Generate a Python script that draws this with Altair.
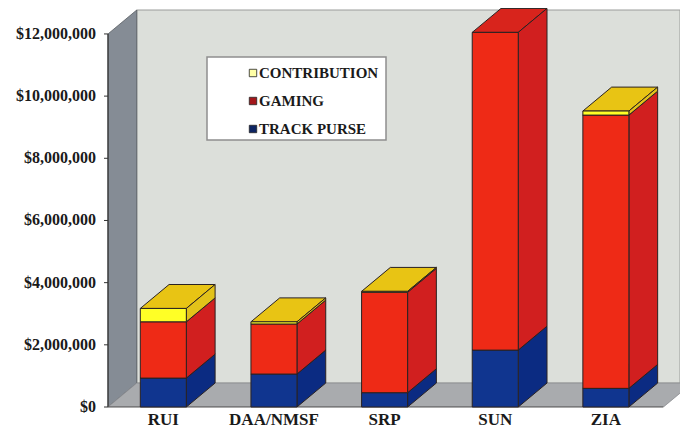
import json
import altair as alt
import pandas as pd

# ---------------- data ----------------
categories = ["RUI", "DAA/NMSF", "SRP", "SUN", "ZIA"]
series = ["TRACK PURSE", "GAMING", "CONTRIBUTION"]          # bottom -> top
track_purse = [930000, 1060000, 460000, 1830000, 600000]
gaming = [1810000, 1610000, 3230000, 10220000, 8790000]
contribution = [430000, 70000, 30000, 0, 130000]
y_ticks = [0, 2000000, 4000000, 6000000, 8000000, 10000000, 12000000]

front_colors = {"TRACK PURSE": "#10358f", "GAMING": "#ee2a16", "CONTRIBUTION": "#ffff26"}
side_colors = {"TRACK PURSE": "#0b2b82", "GAMING": "#d11f1f", "CONTRIBUTION": "#e2c21a"}
top_colors = {"TRACK PURSE": "#10358f", "GAMING": "#d8241c", "CONTRIBUTION": "#e8c414"}
legend_colors = {"CONTRIBUTION": "#ffffa6", "GAMING": "#a3171b", "TRACK PURSE": "#0d2462"}
legend_order = ["CONTRIBUTION", "GAMING", "TRACK PURSE"]

# ---------------- geometry (style) ----------------
HALF_W = 0.208          # half bar width in category units
DX = 0.26               # depth in category units
DY = 770000             # depth in value units
Y_TOP = 12000000
X_MAX = 5.17
FLOOR_END = 5.02
STROKE = "#2a2222"
SERIF = "Liberation Serif, Times New Roman, serif"

values = {"TRACK PURSE": track_purse, "GAMING": gaming, "CONTRIBUTION": contribution}

front_rows, side_rows, top_rows = [], [], []
for i, cat in enumerate(categories):
    cx = i + 0.5
    base = 0
    for s in series:
        v = values[s][i]
        y0, y1 = base, base + v
        base = y1
        if v <= 0:
            continue
        sid = f"{cat}-{s}"
        front_rows.append(dict(cat=cat, s=s, x=cx - HALF_W, x2=cx + HALF_W, y=y0, y2=y1,
                               c=front_colors[s]))
        side_rows += [
            dict(id=sid, x=cx + HALF_W, y=y0, y2=y1, c=side_colors[s]),
            dict(id=sid, x=cx + HALF_W + DX, y=y0 + DY, y2=y1 + DY, c=side_colors[s]),
        ]
        top_rows += [
            dict(id=sid, y=y1, x=cx - HALF_W, x2=cx + HALF_W, c=top_colors[s], k=len(top_rows)),
            dict(id=sid, y=y1 + DY, x=cx - HALF_W + DX, x2=cx + HALF_W + DX, c=top_colors[s], k=len(top_rows)),
        ]

front_df = pd.DataFrame(front_rows)
side_df = pd.DataFrame(side_rows)
top_df = pd.DataFrame(top_rows)

xs = alt.Scale(domain=[0, X_MAX], nice=False, zero=False)
ys = alt.Scale(domain=[0, Y_TOP + DY], nice=False)
X = lambda f: alt.X(f, type="quantitative", scale=xs, axis=None)
Y = lambda f: alt.Y(f, type="quantitative", scale=ys, axis=None)

# walls
left_wall = alt.Chart(pd.DataFrame([
    dict(x=0, y=0, y2=Y_TOP), dict(x=DX, y=DY, y2=Y_TOP + DY)])).mark_area(
    color="#858c95", stroke="#555a60", strokeWidth=0.8).encode(x=X("x"), y=Y("y"), y2="y2")
back_wall = alt.Chart(pd.DataFrame([dict(x=DX, x2=X_MAX, y=DY, y2=Y_TOP + DY)])).mark_rect(
    color="#dcdfda", stroke="#9a9c9a", strokeWidth=1).encode(x=X("x"), x2="x2", y=Y("y"), y2="y2")
floor = alt.Chart(pd.DataFrame([
    dict(y=0, x=0, x2=FLOOR_END), dict(y=DY, x=DX, x2=FLOOR_END + DX)])).mark_area(
    orient="horizontal", color="#a9abae", stroke="#8a8c8f", strokeWidth=0.8, clip=True).encode(
    y=Y("y"), x=X("x"), x2="x2")

# y axis drawn manually: line + ticks + labels
yaxis = alt.Chart(pd.DataFrame({"v": y_ticks})).mark_rule(color="#333", strokeWidth=1).encode(
    y=Y("v"), x=alt.value(-4), x2=alt.value(0))
yline = alt.Chart(pd.DataFrame([dict(y=0, y2=Y_TOP)])).mark_rule(color="#333", strokeWidth=1.2).encode(
    x=alt.value(0), y=Y("y"), y2="y2")
ylabels = alt.Chart(pd.DataFrame({"v": y_ticks})).transform_calculate(
    t="'$' + format(datum.v, ',')").mark_text(
    align="right", baseline="middle", font=SERIF, fontWeight="bold", fontSize=16,
    color="#1a1a1a", dx=-12).encode(y=Y("v"), x=alt.value(0), text="t:N")
xline = alt.Chart(pd.DataFrame([dict(x=0, x2=FLOOR_END)])).mark_rule(color="#555", strokeWidth=1).encode(
    x=X("x"), x2="x2", y=alt.value(397))
xlabels = alt.Chart(pd.DataFrame({"cat": categories, "i": [i + 0.5 for i in range(len(categories))]})).mark_text(
    baseline="middle", font=SERIF, fontWeight="bold", fontSize=17, color="#1a1a1a").encode(
    x=X("i"), y=alt.value(410), text="cat:N")

# bars
tops = alt.Chart(top_df).mark_area(orient="horizontal", stroke=STROKE, strokeWidth=1).encode(
    y=Y("y"), x=X("x"), x2="x2", detail="id:N", color=alt.Color("c:N", scale=None), order="k:Q")
sides = alt.Chart(side_df).mark_area(stroke=STROKE, strokeWidth=1).encode(
    x=X("x"), y=Y("y"), y2="y2", detail="id:N", color=alt.Color("c:N", scale=None))
fronts = alt.Chart(front_df).mark_rect(stroke=STROKE, strokeWidth=1).encode(
    x=X("x"), x2="x2", y=Y("y"), y2="y2", color=alt.Color("c:N", scale=None))

# legend (manual)
leg_box = alt.Chart(pd.DataFrame([{"a": 1}])).mark_rect(
    fill="white", stroke="#8f8f8f", strokeWidth=1.5).encode(
    x=alt.value(99), x2=alt.value(278), y=alt.value(47), y2=alt.value(130))
leg_df = pd.DataFrame({"s": legend_order, "c": [legend_colors[s] for s in legend_order],
                       "yy": [63, 91, 119]})
leg_sym = alt.Chart(leg_df).mark_square(size=55, stroke="#222", strokeWidth=0.8, opacity=1).encode(
    x=alt.value(145), y=alt.Y("yy:Q", scale=None), color=alt.Color("c:N", scale=None))
leg_txt = alt.Chart(leg_df).mark_text(
    align="left", baseline="middle", font=SERIF, fontWeight="bold", fontSize=15,
    color="#1a1a1a").encode(x=alt.value(151), y=alt.Y("yy:Q", scale=None), text="s:N")

chart = alt.layer(
    back_wall, left_wall, floor, yline, yaxis, ylabels, xline, xlabels,
    tops, sides, fronts, leg_box, leg_sym, leg_txt
).properties(
    width=572, height=397,
    autosize=alt.AutoSizeParams(type="none"),
    padding={"left": 100, "top": 2, "right": 0, "bottom": 28},
    background="white",
).configure_view(stroke=None)

chart.save("out.html", embed_options={"renderer": "svg", "actions": False})
